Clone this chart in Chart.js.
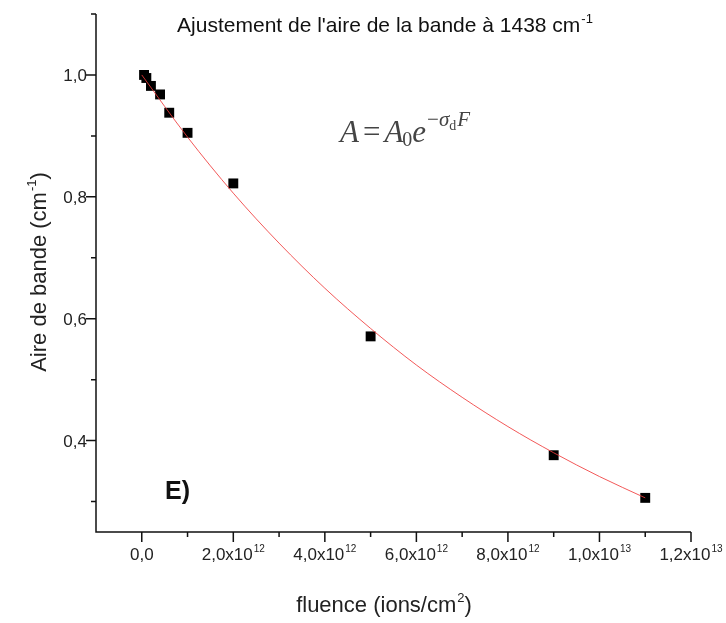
<!DOCTYPE html>
<html>
<head>
<meta charset="utf-8">
<script src="https://cdn.jsdelivr.net/npm/chart.js@4/dist/chart.umd.min.js"></script>
<style>
  html, body { margin: 0; padding: 0; background: #fff; }
  #wrap { width: 726px; height: 623px; position: relative; }
</style>
</head>
<body>
<div id="wrap"><canvas id="myChart" width="726" height="623"></canvas></div>
<script>
// measured points (fluence in ions/cm2, band area in cm-1)
const fluence = [5e10, 1e11, 2e11, 4e11, 6e11, 1e12, 2e12, 5e12, 9e12, 1.1e13];
const aire = [1.0, 0.995, 0.982, 0.968, 0.938, 0.905, 0.822, 0.571, 0.376, 0.306];

// red fit curve
const fitFluence = [0, 1e12, 2e12, 3e12, 4e12, 5e12, 6e12, 7e12, 8e12, 9e12, 1e13, 1.1e13];
const fitAire = [1.0, 0.898, 0.806, 0.724, 0.65, 0.584, 0.524, 0.471, 0.423, 0.38, 0.341, 0.306];

// axis ticks
const xTickValues = [0, 2e12, 4e12, 6e12, 8e12, 1e13, 1.2e13];
const xTickLabels = ["0,0", "2,0x10^{12}", "4,0x10^{12}", "6,0x10^{12}", "8,0x10^{12}", "1,0x10^{13}", "1,2x10^{13}"];
const xMinorTicks = [1e12, 3e12, 5e12, 7e12, 9e12, 1.1e13];
const yTickValues = [0.4, 0.6, 0.8, 1.0];
const yTickLabels = ["0,4", "0,6", "0,8", "1,0"];
const yMinorTicks = [0.3, 0.5, 0.7, 0.9, 1.1];

const SANS = '"Liberation Sans", Arial, sans-serif';

// split "abc^{12}def" into runs
function parseRich(text) {
  const runs = [];
  const re = /\^\{([^}]*)\}/g;
  let last = 0;
  let m;
  while ((m = re.exec(text))) {
    if (m.index > last) runs.push({ t: text.slice(last, m.index), sup: false });
    runs.push({ t: m[1], sup: true });
    last = re.lastIndex;
  }
  if (last < text.length) runs.push({ t: text.slice(last), sup: false });
  return runs;
}

function drawRich(ctx, text, x, y, size, align, font) {
  const fam = font || SANS;
  const supSize = Math.round(size * 0.6);
  const runs = parseRich(text);
  let total = 0;
  runs.forEach((r) => {
    ctx.font = (r.sup ? supSize : size) + "px " + fam;
    r.w = ctx.measureText(r.t).width + (r.sup ? 1 : 0);
    total += r.w;
  });
  let left = x;
  if (align === "center") left = x - total / 2;
  if (align === "right") left = x - total;
  ctx.textAlign = "left";
  ctx.textBaseline = "alphabetic";
  runs.forEach((r) => {
    ctx.font = (r.sup ? supSize : size) + "px " + fam;
    ctx.fillText(r.t, left + (r.sup ? 1 : 0), r.sup ? y - size * 0.45 : y);
    left += r.w;
  });
}

const decorPlugin = {
  id: "decor",
  afterDraw(chart) {
    const ctx = chart.ctx;
    const xs = chart.scales.x;
    const ys = chart.scales.y;
    const area = chart.chartArea;
    ctx.save();
    ctx.strokeStyle = "#111";
    ctx.fillStyle = "#111";
    ctx.lineWidth = 1.5;

    // axis lines
    ctx.beginPath();
    ctx.moveTo(area.left, area.top);
    ctx.lineTo(area.left, area.bottom);
    ctx.lineTo(area.right, area.bottom);
    ctx.stroke();

    // tick marks
    ctx.beginPath();
    xTickValues.forEach((v) => {
      const px = xs.getPixelForValue(v);
      ctx.moveTo(px, area.bottom);
      ctx.lineTo(px, area.bottom + 10);
    });
    xMinorTicks.forEach((v) => {
      const px = xs.getPixelForValue(v);
      ctx.moveTo(px, area.bottom);
      ctx.lineTo(px, area.bottom + 5);
    });
    yTickValues.forEach((v) => {
      const py = ys.getPixelForValue(v);
      ctx.moveTo(area.left, py);
      ctx.lineTo(area.left - 10, py);
    });
    yMinorTicks.forEach((v) => {
      const py = ys.getPixelForValue(v);
      ctx.moveTo(area.left, py);
      ctx.lineTo(area.left - 5, py);
    });
    ctx.stroke();

    // tick labels
    ctx.fillStyle = "#222";
    xTickValues.forEach((v, i) => {
      drawRich(ctx, xTickLabels[i], xs.getPixelForValue(v), area.bottom + 28, 17, "center");
    });
    yTickValues.forEach((v, i) => {
      drawRich(ctx, yTickLabels[i], area.left - 9, ys.getPixelForValue(v) + 6, 17, "right");
    });

    // axis titles
    drawRich(ctx, "fluence (ions/cm^{2})", 384, 612, 22, "center");
    ctx.save();
    ctx.translate(46, 272);
    ctx.rotate(-Math.PI / 2);
    drawRich(ctx, "Aire de bande (cm^{-1})", 0, 0, 22, "center");
    ctx.restore();

    // title inside the plot
    ctx.fillStyle = "#111";
    drawRich(ctx, "Ajustement de l'aire de la bande à 1438 cm^{-1}", 385, 32, 21, "center");

    // fit formula
    ctx.fillStyle = "#444";
    const serif = '"Liberation Serif", "Times New Roman", serif';
    let fx = 340, fy = 142;
    ctx.textAlign = "left";
    ctx.font = "italic 31px " + serif;
    ctx.fillText("A", fx, fy);
    fx += ctx.measureText("A").width + 4;
    ctx.font = "31px " + serif;
    ctx.fillText("=", fx, fy);
    fx += ctx.measureText("=").width + 4;
    ctx.font = "italic 31px " + serif;
    ctx.fillText("A", fx, fy);
    fx += ctx.measureText("A").width - 1;
    ctx.font = "20px " + serif;
    ctx.fillText("0", fx, fy + 4);
    fx += ctx.measureText("0").width;
    ctx.font = "italic 31px " + serif;
    ctx.fillText("e", fx, fy);
    fx += ctx.measureText("e").width + 1;
    ctx.font = "21px " + serif;
    ctx.fillText("\u2212", fx, fy - 16);
    fx += ctx.measureText("\u2212").width;
    ctx.font = "italic 21px " + serif;
    ctx.fillText("\u03c3", fx, fy - 16);
    fx += ctx.measureText("\u03c3").width;
    ctx.font = "14px " + serif;
    ctx.fillText("d", fx, fy - 12);
    fx += ctx.measureText("d").width + 1;
    ctx.font = "italic 21px " + serif;
    ctx.fillText("F", fx, fy - 16);

    // panel label
    ctx.fillStyle = "#111";
    ctx.font = 'bold 25px "Liberation Sans", Arial, sans-serif';
    ctx.fillText("E)", 165, 499);

    ctx.restore();
  },
};

function initChart() {
  const ctx = document.getElementById("myChart");

  const myChart = new Chart(ctx, {
    type: "scatter",
    data: {
      datasets: [
        {
          label: "fit",
          data: fitFluence.map((f, i) => ({ x: f, y: fitAire[i] })),
          showLine: true,
          borderColor: "rgba(240, 60, 60, 0.85)",
          borderWidth: 1,
          pointRadius: 0,
          cubicInterpolationMode: "monotone",
          order: 0,
        },
        {
          label: "Aire",
          data: fluence.map((f, i) => ({ x: f, y: aire[i] })),
          pointStyle: "rect",
          pointRadius: 7,
          backgroundColor: "#000",
          borderColor: "#000",
          borderWidth: 0,
          order: 1,
        },
      ],
    },
    options: {
      responsive: false,
      animation: false,
      clip: false,
      layout: { padding: { top: 14, right: 35, left: 0, bottom: 0 } },
      plugins: {
        legend: { display: false },
        tooltip: { enabled: false },
      },
      scales: {
        x: {
          type: "linear",
          min: -1e12,
          max: 1.2e13,
          grid: { display: false },
          border: { display: false },
          ticks: { display: false },
          afterFit(scale) {
            scale.height = 91;
          },
        },
        y: {
          min: 0.25,
          max: 1.1,
          grid: { display: false },
          border: { display: false },
          ticks: { display: false },
          afterFit(scale) {
            scale.width = 96;
          },
        },
      },
    },
    plugins: [decorPlugin],
  });

  return myChart;
}

initChart();
</script>
</body>
</html>
